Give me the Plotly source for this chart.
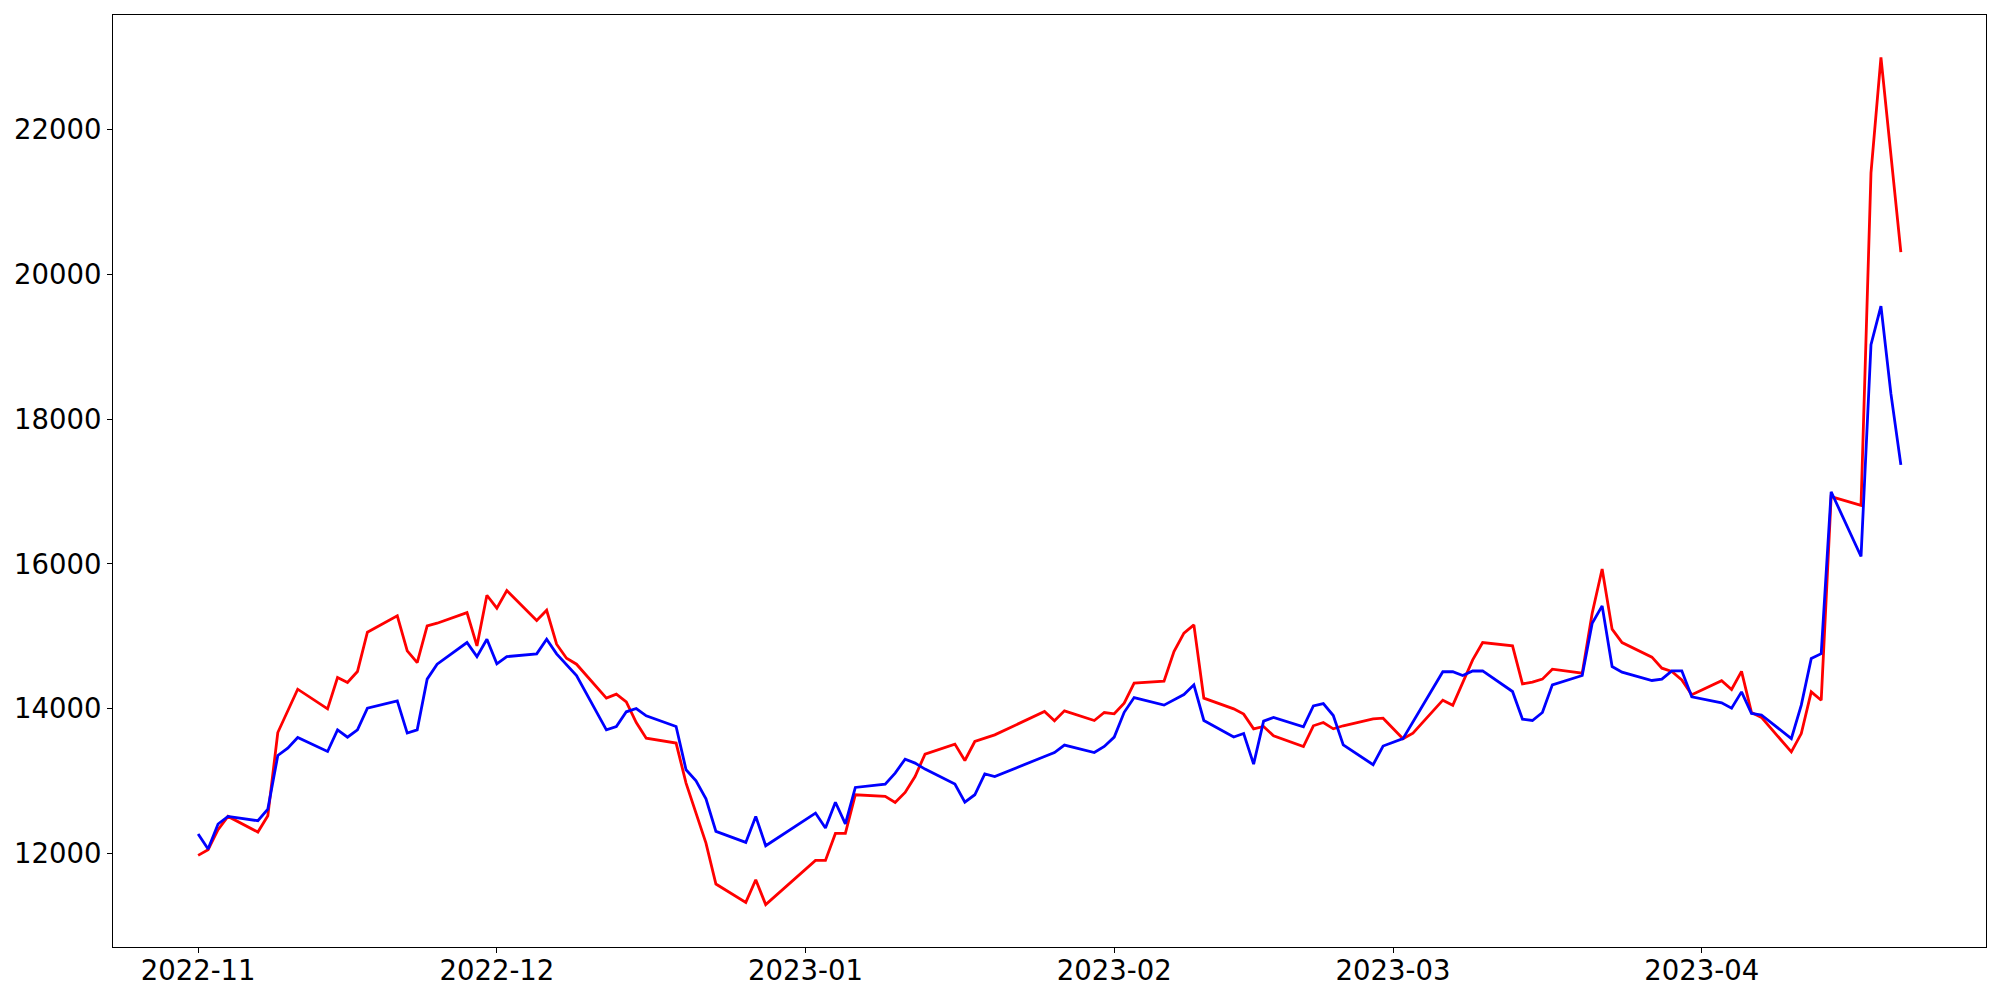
import pandas as pd
import plotly.graph_objects as go

dates = [
    "2022-11-01", "2022-11-02", "2022-11-03", "2022-11-04", "2022-11-07", "2022-11-08",
    "2022-11-09", "2022-11-10", "2022-11-11", "2022-11-14", "2022-11-15", "2022-11-16",
    "2022-11-17", "2022-11-18", "2022-11-21", "2022-11-22", "2022-11-23", "2022-11-24",
    "2022-11-25", "2022-11-28", "2022-11-29", "2022-11-30", "2022-12-01", "2022-12-02",
    "2022-12-05", "2022-12-06", "2022-12-07", "2022-12-08", "2022-12-09", "2022-12-12",
    "2022-12-13", "2022-12-14", "2022-12-15", "2022-12-16", "2022-12-19", "2022-12-20",
    "2022-12-21", "2022-12-22", "2022-12-23", "2022-12-26", "2022-12-27", "2022-12-28",
    "2023-01-02", "2023-01-03", "2023-01-04", "2023-01-05", "2023-01-06", "2023-01-09",
    "2023-01-10", "2023-01-11", "2023-01-12", "2023-01-13", "2023-01-16", "2023-01-17",
    "2023-01-18", "2023-01-19", "2023-01-20", "2023-01-25", "2023-01-26", "2023-01-27",
    "2023-01-30", "2023-01-31", "2023-02-01", "2023-02-02", "2023-02-03", "2023-02-06",
    "2023-02-07", "2023-02-08", "2023-02-09", "2023-02-10", "2023-02-13", "2023-02-14",
    "2023-02-15", "2023-02-16", "2023-02-17", "2023-02-20", "2023-02-21", "2023-02-22",
    "2023-02-23", "2023-02-24", "2023-02-27", "2023-02-28", "2023-03-02", "2023-03-03",
    "2023-03-06", "2023-03-07", "2023-03-08", "2023-03-09", "2023-03-10", "2023-03-13",
    "2023-03-14", "2023-03-15", "2023-03-16", "2023-03-17", "2023-03-20", "2023-03-21",
    "2023-03-22", "2023-03-23", "2023-03-24", "2023-03-27", "2023-03-28", "2023-03-29",
    "2023-03-30", "2023-03-31", "2023-04-03", "2023-04-04", "2023-04-05", "2023-04-06",
    "2023-04-07", "2023-04-10", "2023-04-11", "2023-04-12", "2023-04-13", "2023-04-14",
    "2023-04-17", "2023-04-18", "2023-04-19", "2023-04-20", "2023-04-21",
]

red_values = [
    11977, 12055, 12331, 12515, 12299, 12524,
    13673, 13972, 14271, 14000, 14432, 14363,
    14515, 15058, 15283, 14800, 14639, 15145,
    15182, 15328, 14869, 15568, 15389, 15632,
    15218, 15361, 14892, 14699, 14616, 14148,
    14203, 14097, 13811, 13595, 13527, 12975,
    12575, 12147, 11582, 11328, 11641, 11297,
    11908, 11908, 12280, 12280, 12814, 12791,
    12708, 12846, 13066, 13375, 13513, 13287,
    13549, 13595, 13641, 13963, 13834, 13972,
    13839, 13949, 13931, 14078, 14354, 14382,
    14790, 15044, 15159, 14148, 14000, 13927,
    13724, 13756, 13628, 13480, 13766, 13811,
    13724, 13766, 13862, 13871, 13586, 13665,
    14120, 14050, 14370, 14676, 14915, 14869,
    14345, 14368, 14410, 14547, 14492, 15320,
    15931, 15099, 14915, 14713, 14561, 14515,
    14400, 14195, 14389, 14267, 14518, 13949,
    13881, 13406, 13658, 14234, 14118, 16929,
    16808, 21400, 22993, 21640, 20303,
]

blue_values = [
    12272, 12065, 12410, 12515, 12455, 12616,
    13356, 13458, 13604, 13411, 13710, 13609,
    13710, 14009, 14110, 13665, 13710, 14410,
    14616, 14915, 14721, 14961, 14621, 14721,
    14759, 14961, 14759, 14607, 14460, 13710,
    13756, 13959, 14004, 13903, 13756, 13159,
    13007, 12759, 12308, 12156, 12515, 12110,
    12561, 12354, 12710, 12411, 12915, 12961,
    13113, 13306, 13251, 13168, 12961, 12713,
    12814, 13103, 13066, 13342, 13397, 13499,
    13397, 13480, 13610, 13952, 14156, 14051,
    14120, 14197, 14331, 13839, 13610, 13660,
    13237, 13830, 13880, 13752, 14041, 14073,
    13908, 13503, 13228, 13486, 13588, 13822,
    14512, 14512, 14460, 14522, 14524, 14239,
    13857, 13839, 13949, 14331, 14460, 15182,
    15421, 14584, 14506, 14391, 14410, 14524,
    14524, 14165, 14083, 14009, 14234, 13936,
    13915, 13589, 14051, 14694, 14762, 16997,
    16103, 19028, 19558, 18351, 17368,
]

x_tick_values = ["2022-11-01", "2022-12-01", "2023-01-01", "2023-02-01", "2023-03-01", "2023-04-01"]
x_tick_labels = ["2022-11", "2022-12", "2023-01", "2023-02", "2023-03", "2023-04"]
y_tick_values = [12000, 14000, 16000, 18000, 20000, 22000]

x = pd.to_datetime(dates)
span = x.max() - x.min()
x_range = [x.min() - span * 0.05, x.max() + span * 0.05]
all_vals = red_values + blue_values
vmin, vmax = min(all_vals), max(all_vals)
pad = (vmax - vmin) * 0.05
y_range = [vmin - pad, vmax + pad]

fig = go.Figure()
fig.add_trace(go.Scatter(x=x, y=red_values, mode="lines",
                         line=dict(color="#ff0000", width=2.8), showlegend=False))
fig.add_trace(go.Scatter(x=x, y=blue_values, mode="lines",
                         line=dict(color="#0000ff", width=2.8), showlegend=False))

axis_common = dict(
    showline=True, mirror=True, linecolor="black", linewidth=1.1,
    ticks="outside", ticklen=5, tickwidth=1.1, tickcolor="black",
    showgrid=False, zeroline=False, automargin=False,
    tickfont=dict(family="DejaVu Sans", size=27.5, color="black"),
)

fig.update_xaxes(range=x_range, tickvals=pd.to_datetime(x_tick_values), ticktext=x_tick_labels,
                 ticklabelstandoff=-6, **axis_common)
fig.update_yaxes(range=y_range, tickvals=y_tick_values,
                 ticktext=[str(v) for v in y_tick_values], **axis_common)

# page body has an 8px default margin; size the figure so the plot lands where the reference has it
fig.update_layout(
    width=1984, height=984,
    margin=dict(l=105, r=6, t=7, b=45, pad=0),
    plot_bgcolor="white", paper_bgcolor="white",
)

fig.write_html("out.html")
